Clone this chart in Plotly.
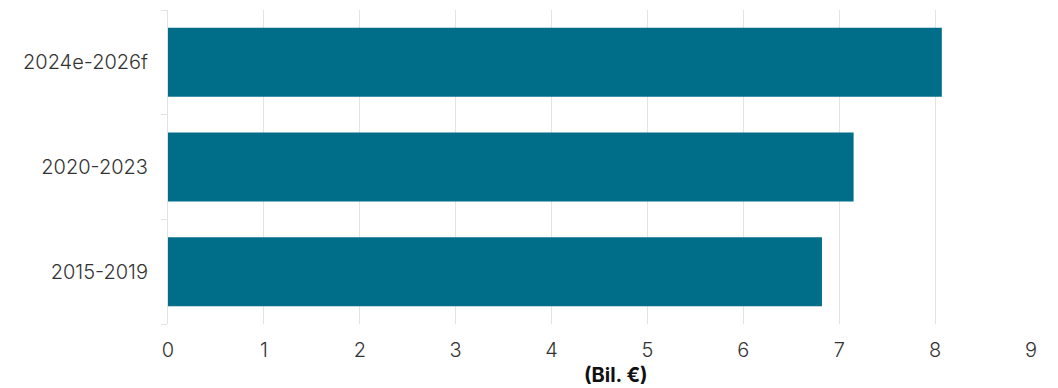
import plotly.graph_objects as go

# Periods and average values (billions of euros)
periods = ["2015-2019", "2020-2023", "2024e-2026f"]
values = [6.82, 7.15, 8.07]
x_ticks = [0, 1, 2, 3, 4, 5, 6, 7, 8, 9]
unit_label = "(Bil. €)"

bar_color = "#006e89"
grid_color = "#e3e3e3"
text_color = "#333333"

fig = go.Figure(
    go.Bar(
        x=values,
        y=periods,
        orientation="h",
        marker=dict(color=bar_color, line=dict(width=0)),
        width=0.66,
        hoverinfo="x+y",
    )
)

fig.update_layout(
    width=1058,
    height=388,
    margin=dict(l=168, r=27, t=10, b=64),
    paper_bgcolor="white",
    plot_bgcolor="white",
    showlegend=False,
    font=dict(family="Inter", size=20, color=text_color, weight=300),
    annotations=[
        dict(
            text="<b>" + unit_label + "</b>",
            xref="paper",
            yref="paper",
            x=0.519,
            y=0,
            yshift=-51,
            xanchor="center",
            yanchor="middle",
            showarrow=False,
            font=dict(family="Inter", size=20, color="#111111", weight=700),
        )
    ],
)

fig.update_xaxes(
    range=[0, 9],
    tickvals=x_ticks,
    showgrid=True,
    gridcolor=grid_color,
    gridwidth=1,
    zeroline=False,
    showline=False,
    ticks="",
    ticklabelstandoff=12,
    tickfont=dict(size=20, color=text_color),
    fixedrange=True,
)

fig.update_yaxes(
    categoryorder="array",
    categoryarray=periods,
    showgrid=False,
    zeroline=False,
    showline=True,
    linecolor=grid_color,
    linewidth=1,
    ticks="outside",
    tickson="boundaries",
    ticklen=6,
    tickcolor=grid_color,
    ticklabelstandoff=15,
    tickfont=dict(size=20, color=text_color),
    fixedrange=True,
)

fig.write_html("out.html")
